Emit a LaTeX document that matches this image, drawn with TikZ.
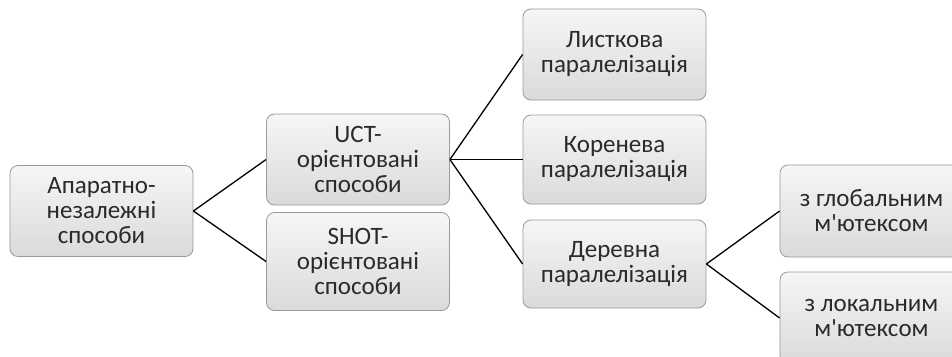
\documentclass[tikz,border=0pt]{standalone}
\usepackage{fontspec}
\setmainfont{Carlito}
\definecolor{txt}{HTML}{2A2A2A}
\definecolor{bord}{HTML}{9A9A9A}
\definecolor{topc}{HTML}{F6F6F6}
\definecolor{botc}{HTML}{DADADA}
\tikzset{
  box/.style={draw=bord, line width=0.8pt, rounded corners=8pt, top color=topc, bottom color=botc,
    minimum width=183pt, minimum height=91pt, align=center, text=txt, inner sep=0pt,
    font=\fontsize{25}{25}\selectfont},
  conn/.style={draw=black, line width=1.3pt}
}
\begin{document}
\begin{tikzpicture}[x=1pt,y=-1pt]
\useasboundingbox (0,0) rectangle (952,356);
\clip (0,0) rectangle (952,356);
\fill[white] (0,0) rectangle (952,356);
\node[box] (a) at (101.5,211) {Апаратно-\\незалежні\\способи};
\node[box] (uct) at (358,159.5) {UCT-\\орієнтовані\\способи};
\node[box, minimum height=98pt] (shot) at (358,261.5) {SHOT-\\орієнтовані\\способи};
\node[box] (leaf) at (614.5,54.5) {Листкова\\паралелізація};
\node[box, minimum height=89pt] (root) at (614.5,159.5) {Коренева\\паралелізація};
\node[box, minimum height=88pt] (tree) at (614.5,264) {Деревна\\паралелізація};
\node[box, minimum height=92pt] (glob) at (871.5,211) {з глобальним\\м\textquotesingle ютексом};
\node[box, minimum height=92pt] (loc) at (871.5,318) {з локальним\\м\textquotesingle ютексом};
\draw[conn] (a.east) -- (uct.west);
\draw[conn] (a.east) -- (shot.west);
\draw[conn] (uct.east) -- (leaf.west);
\draw[conn] (uct.east) -- (root.west);
\draw[conn] (uct.east) -- (tree.west);
\draw[conn] (tree.east) -- (glob.west);
\draw[conn] (tree.east) -- (loc.west);
\end{tikzpicture}
\end{document}
